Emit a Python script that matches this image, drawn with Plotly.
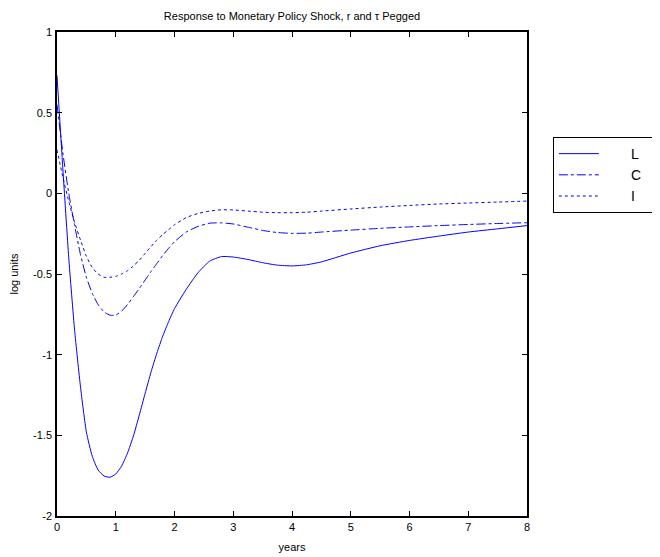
import plotly.graph_objects as go

years = [0, 0.1, 0.2, 0.3, 0.4, 0.5, 0.6, 0.7, 0.8, 0.9, 1.0, 1.1, 1.2, 1.3, 1.4, 1.5,
         1.6, 1.7, 1.8, 1.9, 2.0, 2.2, 2.4, 2.6, 2.8, 3.0, 3.25, 3.5, 3.75, 4.0, 4.25,
         4.5, 5.0, 5.5, 6.0, 6.5, 7.0, 7.5, 8.0]

L_vals = [0.73, 0.15, -0.4, -0.85, -1.2, -1.48, -1.63, -1.715, -1.752, -1.76, -1.74, -1.69,
          -1.61, -1.505, -1.375, -1.24, -1.108, -0.99, -0.885, -0.795, -0.715, -0.595, -0.492, -0.42,
          -0.392, -0.395, -0.41, -0.43, -0.445, -0.45, -0.443, -0.425, -0.37, -0.325, -0.292,
          -0.265, -0.24, -0.22, -0.2]

C_vals = [0.55, 0.25, 0.0, -0.2, -0.38, -0.52, -0.62, -0.69, -0.735, -0.755, -0.755, -0.73,
          -0.69, -0.64, -0.59, -0.537, -0.485, -0.435, -0.385, -0.34, -0.3, -0.24, -0.205,
          -0.185, -0.183, -0.19, -0.21, -0.23, -0.243, -0.248, -0.247, -0.24, -0.228, -0.217,
          -0.208, -0.2, -0.193, -0.187, -0.182]

I_vals = [0.27, 0.1, -0.05, -0.18, -0.29, -0.39, -0.46, -0.5, -0.52, -0.52, -0.515, -0.5,
          -0.48, -0.45, -0.415, -0.372, -0.33, -0.29, -0.255, -0.225, -0.195, -0.15, -0.125,
          -0.11, -0.102, -0.103, -0.11, -0.117, -0.12, -0.12, -0.117, -0.11, -0.097, -0.085,
          -0.075, -0.066, -0.06, -0.054, -0.048]

series = [("L", L_vals, "solid"), ("C", C_vals, "dashdot"), ("I", I_vals, "dot")]

x_ticks = [0, 1, 2, 3, 4, 5, 6, 7, 8]
y_ticks = [-2, -1.5, -1, -0.5, 0, 0.5, 1]
y_tick_text = ["-2", "-1.5", "-1", "-0.5", "0", "0.5", "1"]

FONT = "Liberation Sans, Arial, sans-serif"
NB = "\u00a0"

fig = go.Figure()
for name, vals, dash in series:
    fig.add_trace(go.Scatter(
        x=years, y=vals, name=NB * 7 + name + NB * 2, mode="lines",
        line=dict(color="rgb(0,0,255)", width=1, dash=dash, shape="spline", smoothing=0.5),
    ))

axis_common = dict(
    showline=True, linecolor="black", linewidth=1.5, mirror="ticks",
    ticks="inside", ticklen=5, tickcolor="black", tickwidth=1,
    showgrid=False, zeroline=False, automargin=False,
    tickfont=dict(family=FONT, size=11, color="black"),
)

fig.update_xaxes(range=[0, 8], tickvals=x_ticks,
                 title=dict(text="years", font=dict(family=FONT, size=11, color="black"), standoff=11),
                 **axis_common)
fig.update_yaxes(range=[-2, 1], tickvals=y_ticks, ticktext=y_tick_text, ticklabelstandoff=1,
                 title=dict(text="log units", font=dict(family=FONT, size=11, color="black"), standoff=15),
                 **axis_common)

fig.update_layout(
    width=660, height=557,
    margin=dict(l=49, r=141, t=24, b=49, autoexpand=False),
    paper_bgcolor="white", plot_bgcolor="white",
    title=dict(text="Response to Monetary Policy Shock, r and \u03c4 Pegged",
               font=dict(family=FONT, size=11, color="black"),
               x=(49 + 470 / 2) / 660, xanchor="center", y=1 - 8 / 557, yanchor="middle"),
    showlegend=True,
    legend=dict(x=1.055, y=0.783, xanchor="left", yanchor="top",
                bordercolor="black", borderwidth=1, bgcolor="white",
                font=dict(family=FONT, size=14, color="black"),
                itemwidth=40, tracegroupgap=0),
)

fig.write_html("out.html")
